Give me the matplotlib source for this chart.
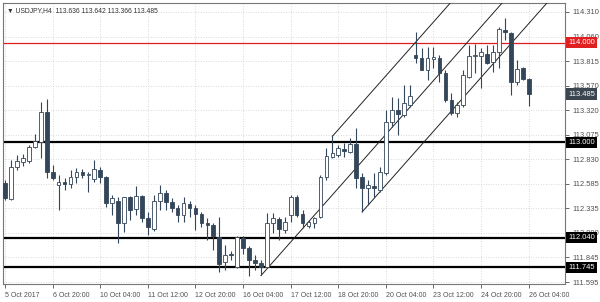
import matplotlib
matplotlib.use("Agg")
import matplotlib.pyplot as plt
import matplotlib.transforms as mtransforms

plt.rcParams['font.family'] = ['Liberation Sans', 'DejaVu Sans']

# USDJPY H4 candles, one per 4h bar (5 Oct -> 26 Oct 2017)
opens = [112.59, 112.431, 112.753, 112.803, 112.813, 112.954, 113.004, 113.305, 112.703, 112.572,
         112.602, 112.582, 112.652, 112.703, 112.672, 112.632, 112.723, 112.652, 112.391, 112.411,
         112.190, 112.451, 112.331, 112.461, 112.240, 112.130, 112.411, 112.491, 112.401, 112.341,
         112.270, 112.381, 112.341, 112.280, 112.190, 112.170, 112.049, 111.798, 111.878, 111.748,
         112.039, 111.939, 111.818, 111.788, 111.748, 112.190, 112.230, 112.120, 112.270, 112.451,
         112.280, 112.160, 112.190, 112.250, 112.652, 112.853, 112.873, 112.934, 112.903, 112.984,
         112.652, 112.542, 112.562, 112.522, 112.692, 113.205, 113.326, 113.275, 113.376, 113.878,
         113.848, 113.727, 113.838, 113.848, 113.697, 113.426, 113.295, 113.376, 113.657, 113.868,
         113.868, 113.888, 113.808, 113.908, 114.130, 114.099, 113.607, 113.748, 113.636]
highs = [112.622, 112.823, 112.873, 112.883, 112.974, 113.084, 113.406, 113.436, 112.773, 112.672,
         112.642, 112.723, 112.743, 112.733, 112.703, 112.823, 112.753, 112.662, 112.471, 112.451,
         112.451, 112.461, 112.562, 112.471, 112.300, 112.471, 112.572, 112.522, 112.441, 112.371,
         112.451, 112.411, 112.371, 112.300, 112.240, 112.190, 112.250, 111.969, 111.908, 112.059,
         112.059, 111.959, 111.868, 111.818, 112.290, 112.290, 112.250, 112.250, 112.471, 112.471,
         112.321, 112.220, 112.250, 112.672, 112.944, 113.074, 112.974, 112.994, 113.044, 113.145,
         112.692, 112.622, 112.692, 112.753, 113.326, 113.456, 113.446, 113.577, 113.577, 114.109,
         113.949, 113.959, 113.959, 113.878, 113.727, 113.496, 113.406, 113.727, 113.979, 113.989,
         113.949, 113.979, 113.979, 114.160, 114.250, 114.109, 113.828, 113.758, 113.642]
lows = [112.421, 112.421, 112.723, 112.763, 112.793, 112.944, 112.843, 112.642, 112.622, 112.321,
        112.522, 112.542, 112.592, 112.642, 112.501, 112.602, 112.592, 112.351, 112.270, 111.989,
        112.099, 112.220, 112.270, 112.200, 112.069, 112.110, 112.321, 112.321, 112.300, 112.200,
        112.200, 112.250, 112.120, 112.150, 112.019, 111.918, 111.697, 111.718, 111.818, 111.738,
        111.878, 111.657, 111.718, 111.667, 111.738, 112.089, 112.019, 112.089, 112.200, 112.250,
        112.140, 112.140, 112.140, 112.240, 112.622, 112.843, 112.853, 112.853, 112.893, 112.542,
        112.300, 112.371, 112.451, 112.501, 112.672, 113.155, 113.074, 113.255, 113.356, 113.798,
        113.727, 113.627, 113.748, 113.607, 113.406, 113.275, 113.255, 113.356, 113.647, 113.697,
        113.547, 113.788, 113.707, 113.748, 114.029, 113.476, 113.577, 113.627, 113.366]
closes = [112.441, 112.753, 112.813, 112.843, 112.954, 113.014, 113.305, 112.703, 112.642, 112.602,
          112.582, 112.652, 112.703, 112.672, 112.680, 112.733, 112.652, 112.391, 112.441, 112.190,
          112.451, 112.321, 112.461, 112.240, 112.150, 112.411, 112.491, 112.401, 112.341, 112.270,
          112.391, 112.341, 112.280, 112.190, 112.170, 112.059, 111.778, 111.868, 111.868, 112.049,
          111.939, 111.818, 111.788, 111.748, 112.190, 112.240, 112.130, 112.200, 112.451, 112.270,
          112.190, 112.200, 112.240, 112.652, 112.863, 112.893, 112.944, 112.914, 112.984, 112.642,
          112.542, 112.572, 112.542, 112.703, 113.205, 113.326, 113.285, 113.396, 113.466, 113.848,
          113.727, 113.848, 113.853, 113.697, 113.426, 113.295, 113.376, 113.677, 113.868, 113.878,
          113.908, 113.798, 113.908, 114.140, 114.109, 113.607, 113.738, 113.637, 113.485]

date_labels = ["5 Oct 2017", "6 Oct 20:00", "10 Oct 04:00", "11 Oct 12:00", "12 Oct 20:00",
               "16 Oct 04:00", "17 Oct 12:00", "18 Oct 20:00", "20 Oct 04:00", "23 Oct 12:00",
               "24 Oct 20:00", "26 Oct 04:00"]
label_step = 8
price_ticks = [114.310, 114.060, 113.815, 113.570, 113.320, 113.075, 112.830, 112.585,
               112.335, 112.090, 111.845, 111.595]

resistance = 114.000
support_levels = [113.000, 112.040, 111.745]
last_price = 113.485

# rising channel: anchor bar, anchor price, common slope (price per bar)
channel_bars = [43, 55, 60]
channel_prices = [111.660, 113.060, 112.300]
channel_slope = 0.0676

dark = "#34465a"
txt = "#505050"

fig = plt.figure(figsize=(6.0, 3.02), dpi=100)
ax = fig.add_axes([3 / 600, 18 / 302, 562 / 600, 281 / 302])

n = len(opens)
xs = list(range(n))

ax.grid(True, color="#cfcfcf", linestyle=(0, (1, 2)), linewidth=0.6)
ax.set_axisbelow(True)

# horizontal levels
ax.axhline(resistance, color="#e01e1e", lw=0.9, zorder=2)
for lv in support_levels:
    ax.axhline(lv, color="black", lw=1.6, zorder=2)

# channel lines
for b, p in zip(channel_bars, channel_prices):
    ax.plot([b, b + 60], [p, p + 60 * channel_slope], color="#222222", lw=0.7, zorder=3)

# candles
for i in xs:
    o, h, l, c = opens[i], highs[i], lows[i], closes[i]
    ax.vlines(i, l, h, color=dark, lw=0.8, zorder=4)
    bottom = min(o, c)
    height = max(abs(c - o), 0.008)
    if c >= o:
        ax.bar(i, height, bottom=bottom, width=0.62, color="white", edgecolor=dark, lw=0.6, zorder=5)
    else:
        ax.bar(i, height, bottom=bottom, width=0.62, color=dark, edgecolor=dark, lw=0.6, zorder=5)

ax.set_xlim(-0.35, 94.1)
ax.set_ylim(111.576, 114.400)

ax.yaxis.tick_right()
ax.set_yticks(price_ticks)
ax.set_yticklabels(["%.3f" % v for v in price_ticks])
ax.set_xticks([k * label_step for k in range(len(date_labels))])
ax.set_xticklabels(date_labels, ha="left")
ax.tick_params(axis="both", colors=txt, length=3, width=0.6, pad=2)
ax.tick_params(axis="y", labelsize=5.4)
ax.tick_params(axis="x", labelsize=5.0, pad=3)
for s in ax.spines.values():
    s.set_color("#777777")
    s.set_linewidth(0.8)

trans = mtransforms.blended_transform_factory(ax.transAxes, ax.transData)
boxes = [(resistance, "#e02020")] + [(lv, "black") for lv in support_levels] + [(last_price, "#3c4650")]
for val, col in boxes:
    ax.text(1.006, val, "%.3f" % val, transform=trans, ha="left", va="center", fontsize=5.4,
            color="white", zorder=10, clip_on=False,
            bbox=dict(boxstyle="square,pad=0.28", fc=col, ec="none"))

ax.text(0.008, 0.985, "\u25bc USDJPY,H4  113.636 113.642 113.366 113.485", transform=ax.transAxes,
        ha="left", va="top", fontsize=4.9, color="#333333", zorder=10)

fig.savefig("out.png", dpi=100)
